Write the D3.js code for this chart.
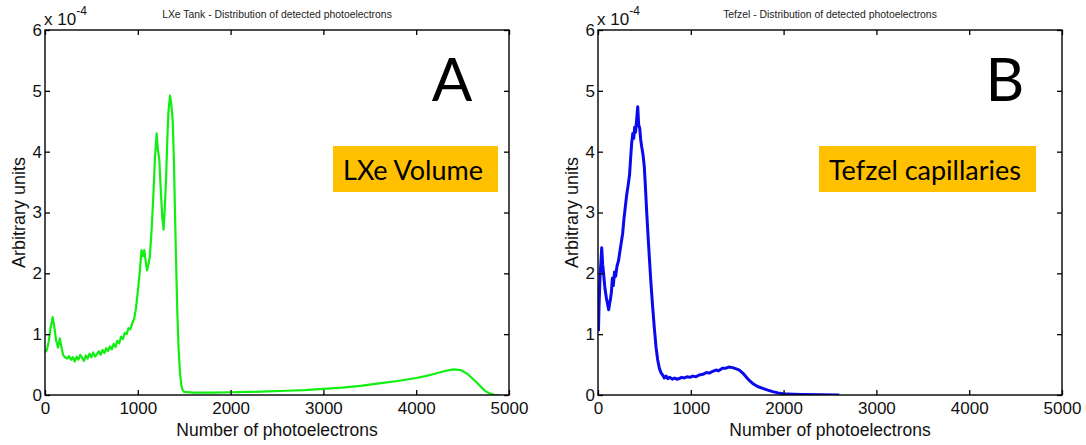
<!DOCTYPE html>
<html>
<head>
<meta charset="utf-8">
<script src="https://cdn.jsdelivr.net/npm/d3@7"></script>
<style>
  html, body { margin: 0; padding: 0; background: #fff; }
  svg { display: block; }
</style>
</head>
<body>
<svg id="chart" width="1086" height="445"></svg>
<script>
// Photoelectron distributions: LXe volume (A) and Tefzel capillaries (B).
// Values are in units of 1e-4 (arbitrary units).

const xTicks = [0, 1000, 2000, 3000, 4000, 5000];
const yTicks = [0, 1, 2, 3, 4, 5, 6];

const lxePhotoelectrons = [
  0, 20, 40, 60, 83, 100, 120, 140, 160, 175, 195, 215, 240, 260, 280, 300, 320, 340, 360, 380,
  400, 420, 440, 460, 480, 500, 520, 540, 560, 580, 600, 620, 640, 660, 680, 700, 720, 740, 760, 780,
  800, 820, 840, 860, 880, 900, 920, 940, 960, 980, 1000, 1020, 1040, 1055, 1070, 1085, 1100, 1115, 1130, 1150,
  1167, 1185, 1203, 1215, 1232, 1250, 1265, 1278, 1290, 1304, 1318, 1330, 1347, 1360, 1376, 1390, 1401, 1414, 1426, 1440,
  1455, 1470, 1483, 1500, 1600, 1800, 2000, 2200, 2400, 2600, 2800, 3000, 3200, 3400, 3600, 3800, 4000, 4100, 4200, 4300,
  4400, 4480, 4550, 4600, 4650, 4700, 4750, 4800, 4850, 4900
];
const lxeValues = [
  0.70, 0.74, 0.88, 1.10, 1.28, 1.12, 0.90, 0.78, 0.93, 0.80, 0.66, 0.62, 0.60, 0.64, 0.58, 0.62, 0.55, 0.63, 0.58, 0.66,
  0.61, 0.56, 0.65, 0.60, 0.68, 0.62, 0.70, 0.63, 0.67, 0.72, 0.66, 0.74, 0.69, 0.77, 0.72, 0.80, 0.75, 0.84, 0.79, 0.89,
  0.85, 0.96, 0.92, 1.02, 1.00, 1.10, 1.08, 1.18, 1.25, 1.42, 1.70, 2.00, 2.38, 2.28, 2.38, 2.20, 2.05, 2.15, 2.28, 2.75,
  3.26, 3.90, 4.30, 4.05, 3.86, 3.30, 2.90, 2.72, 3.05, 3.53, 4.20, 4.65, 4.92, 4.80, 4.52, 3.80, 2.99, 2.10, 1.35, 0.75,
  0.36, 0.15, 0.08, 0.05, 0.04, 0.04, 0.045, 0.05, 0.06, 0.07, 0.08, 0.10, 0.12, 0.15, 0.19, 0.23, 0.28, 0.31, 0.35, 0.39,
  0.42, 0.41, 0.35, 0.28, 0.21, 0.13, 0.06, 0.02, 0.00, 0.00
];

const tefzelPhotoelectrons = [
  5, 10, 22, 32, 40, 50, 60, 75, 90, 105, 115, 125, 135, 145, 155, 165, 178, 190, 205, 220,
  235, 250, 266, 280, 295, 310, 325, 340, 352, 363, 375, 385, 395, 405, 415, 428, 438, 450, 460, 471,
  485, 499, 510, 525, 540, 553, 570, 589, 607, 625, 643, 661, 680, 697, 715, 735, 751, 775, 800, 825,
  850, 876, 900, 930, 960, 990, 1020, 1056, 1090, 1130, 1170, 1200, 1236, 1270, 1300, 1340, 1379, 1410, 1451, 1490,
  1523, 1560, 1595, 1630, 1667, 1720, 1775, 1830, 1882, 1940, 1990, 2100, 2200, 2400, 2600
];
const tefzelValues = [
  1.05, 1.40, 1.95, 2.20, 2.42, 2.15, 2.00, 1.75, 1.60, 1.48, 1.40, 1.50, 1.58, 1.70, 1.92, 1.80, 2.02, 1.95, 2.12, 2.20,
  2.35, 2.50, 2.66, 2.90, 3.10, 3.30, 3.45, 3.62, 3.90, 4.14, 4.30, 4.22, 4.40, 4.32, 4.50, 4.74, 4.45, 4.38, 4.20, 4.08,
  3.95, 3.75, 3.45, 3.00, 2.60, 2.27, 1.85, 1.45, 1.10, 0.79, 0.58, 0.44, 0.36, 0.33, 0.28, 0.31, 0.27, 0.29, 0.26, 0.28,
  0.26, 0.27, 0.29, 0.28, 0.30, 0.29, 0.31, 0.30, 0.33, 0.34, 0.37, 0.36, 0.39, 0.41, 0.40, 0.44, 0.44, 0.46, 0.45, 0.43,
  0.41, 0.36, 0.30, 0.24, 0.19, 0.14, 0.11, 0.08, 0.055, 0.035, 0.02, 0.012, 0.008, 0.005, 0.002
];

const panels = [
  {
    id: "a", left: 45, title: "LXe Tank - Distribution of detected photoelectrons",
    xs: lxePhotoelectrons, ys: lxeValues, color: "#11ee11", width: 2.2,
    letter: "A", letterX: 452, box: { x: 333, w: 165, text: "LXe Volume", tx: 413 }
  },
  {
    id: "b", left: 598, title: "Tefzel - Distribution of detected photoelectrons",
    xs: tefzelPhotoelectrons, ys: tefzelValues, color: "#0a0aee", width: 3,
    letter: "B", letterX: 1005, box: { x: 819, w: 217, text: "Tefzel capillaries", tx: 925 }
  }
];

const SANS = "'Liberation Sans', Arial, Helvetica, sans-serif";
const CAPTION = "Lato, 'Open Sans', sans-serif";
const plotTop = 30, plotBottom = 395, plotWidth = 464;
const svg = d3.select("#chart");

panels.forEach(p => {
  const x = d3.scaleLinear().domain([0, 5000]).range([p.left, p.left + plotWidth]);
  const y = d3.scaleLinear().domain([0, 6]).range([plotBottom, plotTop]);
  const g = svg.append("g").attr("class", "panel-" + p.id);

  // title
  g.append("text")
    .attr("x", p.left + plotWidth / 2).attr("y", 18)
    .attr("text-anchor", "middle")
    .attr("font-family", SANS)
    .attr("font-size", 10.4).attr("fill", "#222")
    .text(p.title);

  // curve, clipped to the plot area
  const clipId = "clip-" + p.id;
  g.append("clipPath").attr("id", clipId)
    .append("rect")
    .attr("x", p.left).attr("y", plotTop)
    .attr("width", plotWidth).attr("height", plotBottom - plotTop);

  const line = d3.line().x(d => x(d[0])).y(d => y(d[1]));
  g.append("path")
    .datum(p.xs.map((v, i) => [v, p.ys[i]]))
    .attr("clip-path", `url(#${clipId})`)
    .attr("fill", "none")
    .attr("stroke", p.color)
    .attr("stroke-width", p.width)
    .attr("stroke-linejoin", "round")
    .attr("d", line);

  // axes with inward ticks on all four sides
  const axisStyle = sel => {
    sel.attr("font-family", SANS).attr("font-size", 17);
    sel.select(".domain").remove();
    sel.selectAll(".tick line").attr("stroke", "#000").attr("stroke-width", 1.3);
    sel.selectAll(".tick text").attr("fill", "#111");
  };
  g.append("g").attr("transform", `translate(0,${plotBottom})`)
    .call(d3.axisBottom(x).tickValues(xTicks).tickSizeInner(-5).tickSizeOuter(0).tickPadding(7).tickFormat(d3.format("d")))
    .call(axisStyle);
  g.append("g").attr("transform", `translate(0,${plotTop})`)
    .call(d3.axisTop(x).tickValues(xTicks).tickSizeInner(-5).tickSizeOuter(0).tickFormat(""))
    .call(axisStyle);
  g.append("g").attr("transform", `translate(${p.left},0)`)
    .call(d3.axisLeft(y).tickValues(yTicks).tickSizeInner(-5).tickSizeOuter(0).tickPadding(3).tickFormat(d3.format("d")))
    .call(axisStyle);
  g.append("g").attr("transform", `translate(${p.left + plotWidth},0)`)
    .call(d3.axisRight(y).tickValues(yTicks).tickSizeInner(-5).tickSizeOuter(0).tickFormat(""))
    .call(axisStyle);

  g.append("rect")
    .attr("x", p.left).attr("y", plotTop)
    .attr("width", plotWidth).attr("height", plotBottom - plotTop)
    .attr("fill", "none").attr("stroke", "#000").attr("stroke-width", 1.4);

  // exponent label
  const expo = g.append("text")
    .attr("x", p.left - 1).attr("y", 25)
    .attr("font-family", SANS)
    .attr("font-size", 17).attr("fill", "#111");
  expo.append("tspan").text("x 10");
  expo.append("tspan").attr("dy", -10).attr("font-size", 12).text("-4");

  // axis labels
  g.append("text")
    .attr("x", p.left + plotWidth / 2).attr("y", 436)
    .attr("text-anchor", "middle")
    .attr("font-family", SANS)
    .attr("font-size", 17.5).attr("fill", "#111")
    .text("Number of photoelectrons");
  g.append("text")
    .attr("transform", `translate(${p.left - 20},${(plotTop + plotBottom) / 2}) rotate(-90)`)
    .attr("text-anchor", "middle")
    .attr("font-family", SANS)
    .attr("font-size", 18).attr("fill", "#111")
    .text("Arbitrary units");

  // panel letter
  g.append("text")
    .attr("x", p.letterX).attr("y", 101)
    .attr("text-anchor", "middle")
    .attr("font-family", CAPTION)
    .attr("font-size", 60).attr("fill", "#000")
    .text(p.letter);

  // highlighted caption box
  g.append("rect")
    .attr("x", p.box.x).attr("y", 146)
    .attr("width", p.box.w).attr("height", 46)
    .attr("fill", "#ffc000");
  g.append("text")
    .attr("x", p.box.tx).attr("y", 180)
    .attr("text-anchor", "middle")
    .attr("font-family", CAPTION)
    .attr("font-size", 27).attr("fill", "#000")
    .text(p.box.text);
});
</script>
</body>
</html>
